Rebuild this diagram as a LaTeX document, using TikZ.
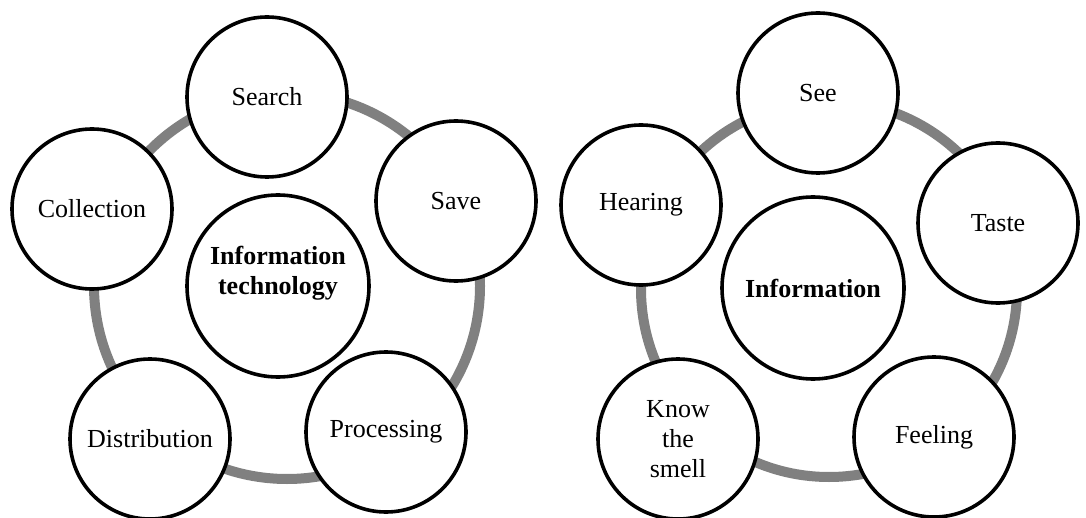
\documentclass[tikz,border=0pt]{standalone}
\usepackage{fontspec}
\setmainfont{Liberation Serif}
\begin{document}
\begin{tikzpicture}[x=0.5pt, y=-0.5pt,
  ring/.style={draw=gray, line width=5pt},
  petal/.style={circle, draw, line width=1.8pt, fill=white, minimum size=80pt, inner sep=0pt, align=center, font=\fontsize{13}{15}\selectfont},
  hub/.style={petal, minimum size=91pt},
  hubtext/.style={align=center, inner sep=0pt, font=\fontsize{13}{15}\selectfont\bfseries}]
\useasboundingbox (0,0) rectangle (1086,518);

% left cycle
\coordinate (itring) at (287,286);
\draw[ring] (itring) circle[radius=96.5pt];

\node[petal] (search) at (267,97){Search};
\node[petal] (save) at (456,201){Save};
\node[petal] (collection) at (92,209){Collection};
\node[petal] (distribution) at (150,439){Distribution};
\node[petal] (processing) at (386,432){Processing};

\node[hub] (itc) at (278,286){};
\node[hubtext] (itctext) at (278,273){Information\\technology};

% right cycle
\coordinate (inforing) at (829,289);
\draw[ring] (inforing) circle[radius=94pt];

\node[petal] (see) at (818,93){See};
\node[petal] (taste) at (998,223){Taste};
\node[petal] (hearing) at (641,205){Hearing};
\node[petal] (smell) at (678,439){Know\\the\\smell};
\node[petal] (feeling) at (934,437){Feeling};

\node[hub, font=\fontsize{13}{15}\selectfont\bfseries] (info) at (813,288){Information};

\end{tikzpicture}
\end{document}
